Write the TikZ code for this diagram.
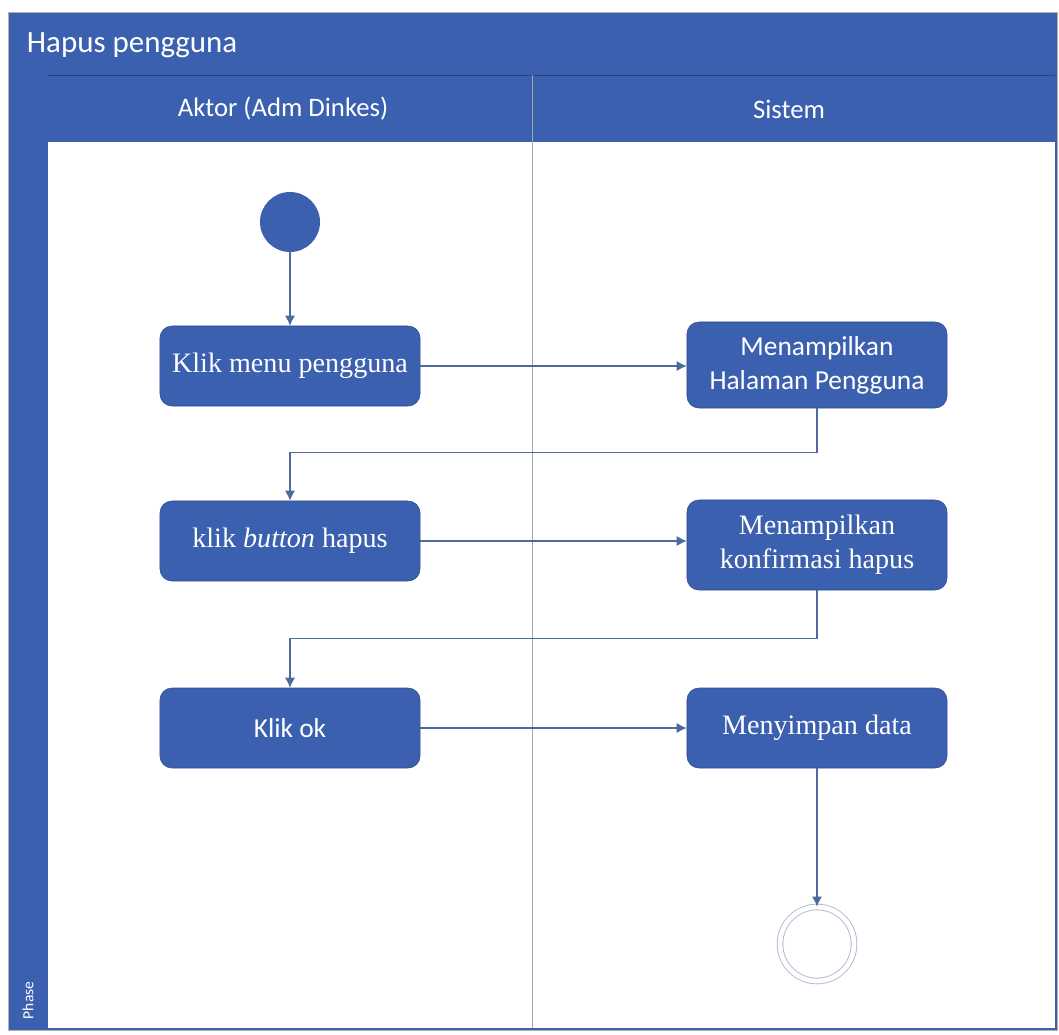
\documentclass[tikz,border=0pt]{standalone}
\usepackage{fontspec}
\setmainfont{Liberation Serif}
\newfontfamily\calib{Carlito}
\usetikzlibrary{positioning,arrows.meta}
\definecolor{laneblue}{HTML}{3B60B0}
\definecolor{flowline}{HTML}{4D6A9E}
\definecolor{ringgray}{HTML}{A9B4CC}

\begin{document}
\begin{tikzpicture}[x=0.025cm,y=-0.025cm,
          act/.style={rectangle,rounded corners=3mm,fill=laneblue,draw=laneblue!80!black,
            minimum width=6.5cm,minimum height=2cm,align=center,text=white,
            font=\fontsize{20}{24}\selectfont},
          start/.style={circle,fill=laneblue,minimum size=1.5cm,inner sep=0pt},
          stop/.style={circle,draw=ringgray,double=white,double distance=1.2mm,line width=0.6pt,
            minimum size=1.85cm,inner sep=0pt},
          flow/.style={draw=flowline,line width=0.8pt,-{Latex[length=2.5mm,width=2.5mm]}}
        ]
        \useasboundingbox (0,0) rectangle (1059,1034);
        % swimlane frame
        \fill[laneblue] (8,12) rectangle (1057,1030);
        \draw[gray!60] (8,12) rectangle (1057,1030);
        \fill[white] (48,142) rectangle (1055,1028);
        \draw[laneblue!70!black] (48,75) -- (1055,75);
        \draw[gray!70] (532,75) -- (532,1028);
        \node[anchor=west,text=white,font=\calib\fontsize{22}{26}\selectfont] (title) at (22,45) {Hapus pengguna};
        \node[text=white,font=\calib\fontsize{19}{22}\selectfont] (aktor) at (283,109) {Aktor (Adm Dinkes)};
        \node[text=white,font=\calib\fontsize{19}{22}\selectfont] (sistem) at (789,109) {Sistem};
        \node[rotate=90,anchor=west,text=white,font=\calib\fontsize{11}{13}\selectfont] (phase) at (28,1024) {Phase};
        % activities
        \node[start] (init) at (290,222) {};
        \node[act] (klikmenu) at (290,366) {Klik menu pengguna};
        \node[act,minimum height=2.15cm,font=\calib\fontsize{19.5}{24}\selectfont] (halaman) at (817,365) {Menampilkan\\Halaman Pengguna};
        \node[act] (hapus) at (290,541) {klik \textit{button} hapus};
        \node[act,minimum height=2.25cm] (konfirmasi) at (817,545) {Menampilkan\\konfirmasi hapus};
        \node[act,font=\calib\fontsize{19.5}{24}\selectfont] (ok) at (290,728) {Klik ok};
        \node[act] (simpan) at (817,728) {Menyimpan data};
        \node[stop] (final) at (817,944) {};
        % transitions
        \draw[flow] (init) -- (klikmenu);
        \draw[flow] (klikmenu.east) -- (klikmenu.east -| halaman.west);
        \draw[flow] (halaman.south) -- ++(0,44) -| (hapus.north);
        \draw[flow] (hapus.east) -- (hapus.east -| konfirmasi.west);
        \draw[flow] (konfirmasi.south) -- ++(0,48) -| (ok.north);
        \draw[flow] (ok) -- (simpan);
        \draw[flow] (simpan) -- (final);
      \end{tikzpicture}
\end{document}
